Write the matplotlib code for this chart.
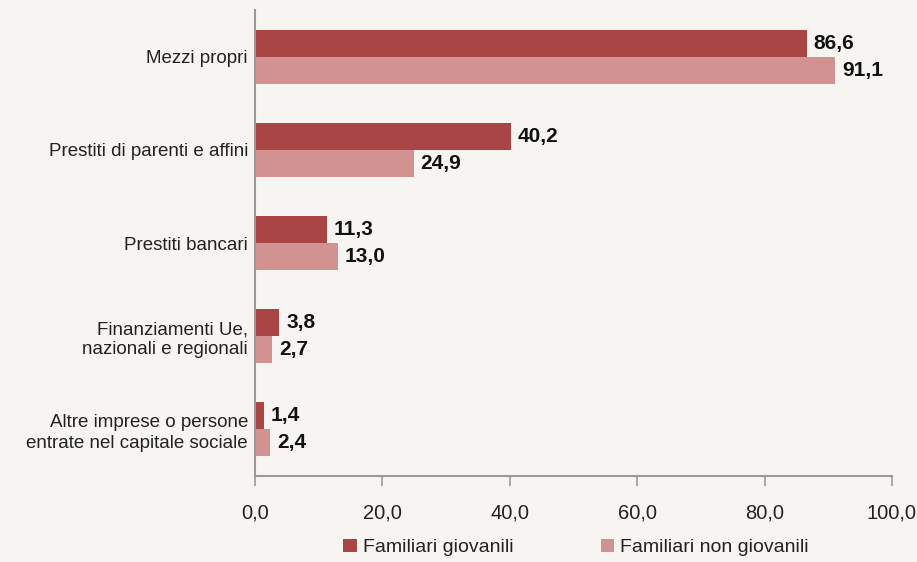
import matplotlib
matplotlib.use("Agg")
import matplotlib.pyplot as plt
import numpy as np

categories = ["Mezzi propri", "Prestiti di parenti e affini", "Prestiti bancari",
              "Finanziamenti Ue,\nnazionali e regionali",
              "Altre imprese o persone\nentrate nel capitale sociale"]
giovanili = [86.6, 40.2, 11.3, 3.8, 1.4]
non_giovanili = [91.1, 24.9, 13.0, 2.7, 2.4]
series_names = ["Familiari giovanili", "Familiari non giovanili"]
xticks = [0, 20, 40, 60, 80, 100]

plt.rcParams['font.family'] = ['Liberation Sans', 'DejaVu Sans']

bg = "#f7f5f1"
c1 = "#a94545"
c2 = "#d39292"

fig = plt.figure(figsize=(9.17, 5.62), dpi=100, facecolor=bg)
ax = fig.add_axes([0.278, 0.153, 0.6947, 0.829])
ax.set_facecolor(bg)

y = np.arange(len(categories))
h = 0.29
b1 = ax.barh(y - h/2, giovanili, height=h, color=c1, label=series_names[0])
b2 = ax.barh(y + h/2, non_giovanili, height=h, color=c2, label=series_names[1])

def fmt(v):
    return f"{v:.1f}".replace(".", ",")

for bars, vals in ((b1, giovanili), (b2, non_giovanili)):
    for rect, v in zip(bars, vals):
        ax.annotate(fmt(v), (v, rect.get_y() + rect.get_height()/2),
                    xytext=(5, 0), textcoords="offset points",
                    ha="left", va="center", fontsize=15, fontweight="bold", color="#111111")

ax.set_ylim(len(categories) - 0.5, -0.5)
ax.set_xlim(0, 100)
ax.set_yticks(y)
ax.set_yticklabels(categories, fontsize=13.5, color="#222222", linespacing=1.25)
ax.set_xticks(xticks)
ax.set_xticklabels([fmt(t) for t in xticks], fontsize=14.5, color="#222222")
ax.tick_params(axis="y", length=0, pad=5)
ax.tick_params(axis="x", length=7, width=1.2, color="#999999", pad=13, direction="out")
for s in ("top", "right"):
    ax.spines[s].set_visible(False)
for s in ("left", "bottom"):
    ax.spines[s].set_color("#999999")
    ax.spines[s].set_linewidth(1.5)

leg = fig.legend(handles=[b1, b2], labels=series_names, loc="center",
                 bbox_to_anchor=(0.628, 0.026), ncol=2, frameon=False,
                 fontsize=14, handlelength=0.7, handleheight=0.7,
                 handletextpad=0.3, columnspacing=4.5)
for t in leg.get_texts():
    t.set_color("#222222")

fig.savefig("out.png", dpi=100, facecolor=bg)
